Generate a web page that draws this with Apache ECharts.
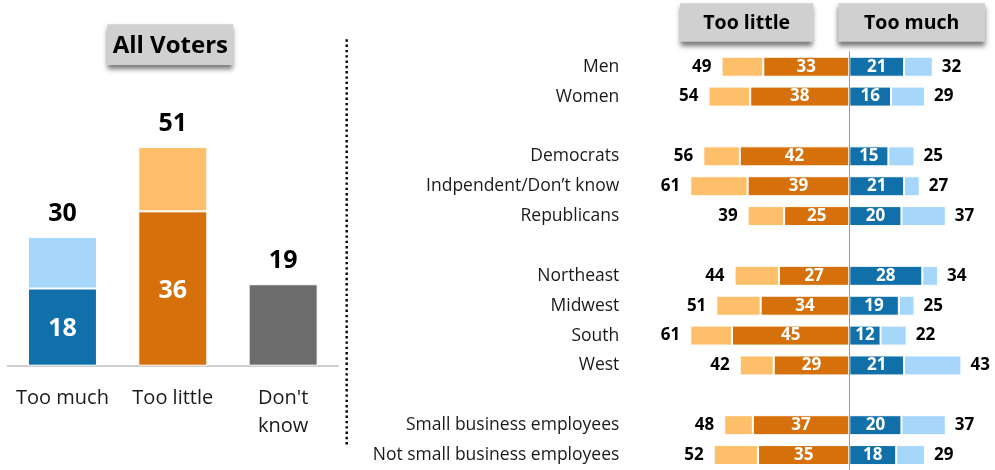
<!DOCTYPE html>
<html>
<head>
<meta charset="utf-8">
<script src="https://cdn.jsdelivr.net/npm/echarts@6/dist/echarts.min.js"></script>
<style>
html,body{margin:0;padding:0;background:#fff;}
#chart{width:995px;height:470px;}
</style>
</head>
<body>
<div id="chart"></div>
<script>
// ---- Left panel: All Voters ----
var allCats = ['Too much', 'Too little', "Don't\nknow"];
var allDark = [18, 36, 19];
var allTotal = [30, 51, 19];

// ---- Right panel: subgroups ----
var groupCats = ['Men', 'Women', ' ', 'Democrats', 'Indpendent/Don\u2019t know', 'Republicans', '  ',
  'Northeast', 'Midwest', 'South', 'West', '   ', 'Small business employees', 'Not small business employees'];
var littleDark  = [33, 38, null, 42, 39, 25, null, 27, 34, 45, 29, null, 37, 35];
var littleTotal = [49, 54, null, 56, 61, 39, null, 44, 51, 61, 42, null, 48, 52];
var muchDark    = [21, 16, null, 15, 21, 20, null, 28, 19, 12, 21, null, 20, 18];
var muchTotal   = [32, 29, null, 25, 27, 37, null, 34, 25, 22, 43, null, 37, 29];

var C = {
  darkOrange: '#D5700A', lightOrange: '#FDBF6A',
  darkBlue: '#1170AA', lightBlue: '#A6D6FA', gray: '#6C6C6C'
};
var FONT = '"Open Sans", "Noto Sans", sans-serif';

var leftDarkColors = [C.darkBlue, C.darkOrange, C.gray];
var leftLightColors = [C.lightBlue, C.lightOrange, C.gray];

var leftDarkData = allDark.map(function (v, i) {
  var isSolo = allTotal[i] === v;
  return {
    value: v,
    itemStyle: { color: leftDarkColors[i] },
    label: isSolo ? {
      show: true, position: 'top', distance: 10, formatter: String(allTotal[i]),
      color: '#000', fontSize: 25, fontWeight: 'bold', lineHeight: 26, fontFamily: FONT
    } : {
      show: true, position: 'inside', offset: [0, 2], formatter: String(v),
      color: '#fff', fontSize: 25, fontWeight: 'bold', fontFamily: FONT
    }
  };
});
var leftLightData = allDark.map(function (v, i) {
  var rest = allTotal[i] - v;
  if (!rest) return { value: null };
  return {
    value: rest,
    itemStyle: { color: leftLightColors[i] },
    label: {
      show: true, position: 'top', distance: 10, formatter: String(allTotal[i]),
      color: '#000', fontSize: 25, fontWeight: 'bold', lineHeight: 26, fontFamily: FONT
    }
  };
});

function neg(arr) { return arr.map(function (v) { return v == null ? null : -v; }); }
function diff(t, d) { return t.map(function (v, i) { return v == null ? null : v - d[i]; }); }

var innerLabel = {
  show: true, position: 'inside', color: '#fff', fontSize: 17, fontWeight: 'bold', fontFamily: FONT,
  formatter: function (p) { return p.value == null ? '' : Math.abs(p.value); }
};

var option = {
  animation: false,
  backgroundColor: '#fff',
  grid: [
    { left: 7.3, width: 331, top: 22.7, height: 343 },
    { left: 666.8, width: 325.9, top: 51.8, height: 418.2 }
  ],
  xAxis: [
    {
      gridIndex: 0, type: 'category', data: allCats,
      axisLine: { lineStyle: { color: '#BFBFBF', width: 1.5 } },
      axisTick: { show: false },
      axisLabel: { interval: 0, fontSize: 20, lineHeight: 28, margin: 19, color: '#1a1a1a', fontFamily: FONT }
    },
    {
      gridIndex: 1, type: 'value', min: -70, max: 55,
      show: false, splitLine: { show: false }
    }
  ],
  yAxis: [
    { gridIndex: 0, type: 'value', min: 0, max: 80, show: false, splitLine: { show: false } },
    {
      gridIndex: 1, type: 'category', data: groupCats, inverse: true, z: 5,
      axisLine: { onZero: true, lineStyle: { color: '#999999', width: 1 } },
      axisTick: { show: false },
      axisLabel: { interval: 0, fontSize: 17.5, margin: 47.5, color: '#1a1a1a', fontFamily: FONT }
    }
  ],
  series: [
    {
      type: 'bar', xAxisIndex: 0, yAxisIndex: 0, stack: 'all', barWidth: 69,
      itemStyle: { borderColor: '#fff', borderWidth: 1 },
      data: leftDarkData
    },
    {
      type: 'bar', xAxisIndex: 0, yAxisIndex: 0, stack: 'all', barWidth: 69,
      itemStyle: { borderColor: '#fff', borderWidth: 1 },
      data: leftLightData
    },
    {
      name: 'Too little (dark)', type: 'bar', xAxisIndex: 1, yAxisIndex: 1, stack: 'little',
      barWidth: 20, barGap: '-100%',
      itemStyle: { color: C.darkOrange, borderColor: '#fff', borderWidth: 1 },
      label: innerLabel,
      data: neg(littleDark)
    },
    {
      name: 'Too little (light)', type: 'bar', xAxisIndex: 1, yAxisIndex: 1, stack: 'little',
      barWidth: 20, barGap: '-100%',
      itemStyle: { color: C.lightOrange, borderColor: '#fff', borderWidth: 1 },
      label: {
        show: true, position: 'left', distance: 10, color: '#000', fontSize: 17, fontWeight: 'bold', fontFamily: FONT,
        formatter: function (p) { return littleTotal[p.dataIndex] == null ? '' : littleTotal[p.dataIndex]; }
      },
      data: neg(diff(littleTotal, littleDark))
    },
    {
      name: 'Too much (dark)', type: 'bar', xAxisIndex: 1, yAxisIndex: 1, stack: 'much',
      barWidth: 20, barGap: '-100%',
      itemStyle: { color: C.darkBlue, borderColor: '#fff', borderWidth: 1 },
      label: innerLabel,
      data: muchDark
    },
    {
      name: 'Too much (light)', type: 'bar', xAxisIndex: 1, yAxisIndex: 1, stack: 'much',
      barWidth: 20, barGap: '-100%',
      itemStyle: { color: C.lightBlue, borderColor: '#fff', borderWidth: 1 },
      label: {
        show: true, position: 'right', distance: 9, color: '#000', fontSize: 17, fontWeight: 'bold', fontFamily: FONT,
        formatter: function (p) { return muchTotal[p.dataIndex] == null ? '' : muchTotal[p.dataIndex]; }
      },
      data: diff(muchTotal, muchDark)
    }
  ],
  graphic: [
    // All Voters header
    {
      type: 'rect', shape: { x: 107.3, y: 24.3, width: 126, height: 40.7 },
      style: { fill: '#D0D0D0', shadowBlur: 5, shadowOffsetY: 4, shadowColor: 'rgba(0,0,0,0.55)' }, z: 10
    },
    {
      type: 'text', x: 170.3, y: 45.7, z: 11,
      style: { text: 'All Voters', fill: '#000', font: 'bold 24px ' + FONT, align: 'center', verticalAlign: 'middle' }
    },
    // Too little header
    {
      type: 'rect', shape: { x: 680, y: 3.3, width: 133.3, height: 38.4 },
      style: { fill: '#D0D0D0', shadowBlur: 5, shadowOffsetY: 4, shadowColor: 'rgba(0,0,0,0.55)' }, z: 10
    },
    {
      type: 'text', x: 746.7, y: 23.3, z: 11,
      style: { text: 'Too little', fill: '#000', font: 'bold 19.5px ' + FONT, align: 'center', verticalAlign: 'middle' }
    },
    // Too much header
    {
      type: 'rect', shape: { x: 838.3, y: 3.3, width: 146.7, height: 38.4 },
      style: { fill: '#D0D0D0', shadowBlur: 5, shadowOffsetY: 4, shadowColor: 'rgba(0,0,0,0.55)' }, z: 10
    },
    {
      type: 'text', x: 911.7, y: 23.3, z: 11,
      style: { text: 'Too much', fill: '#000', font: 'bold 19.5px ' + FONT, align: 'center', verticalAlign: 'middle' }
    },
    // dotted divider
    {
      type: 'line', shape: { x1: 346.7, y1: 39.3, x2: 346.7, y2: 445 },
      style: { stroke: '#000', lineWidth: 2.4, lineDash: [2.4, 2.9] }, z: 10
    }
  ]
};

var chart = echarts.init(document.getElementById('chart'), null, { renderer: 'canvas' });
chart.setOption(option);
</script>
</body>
</html>
